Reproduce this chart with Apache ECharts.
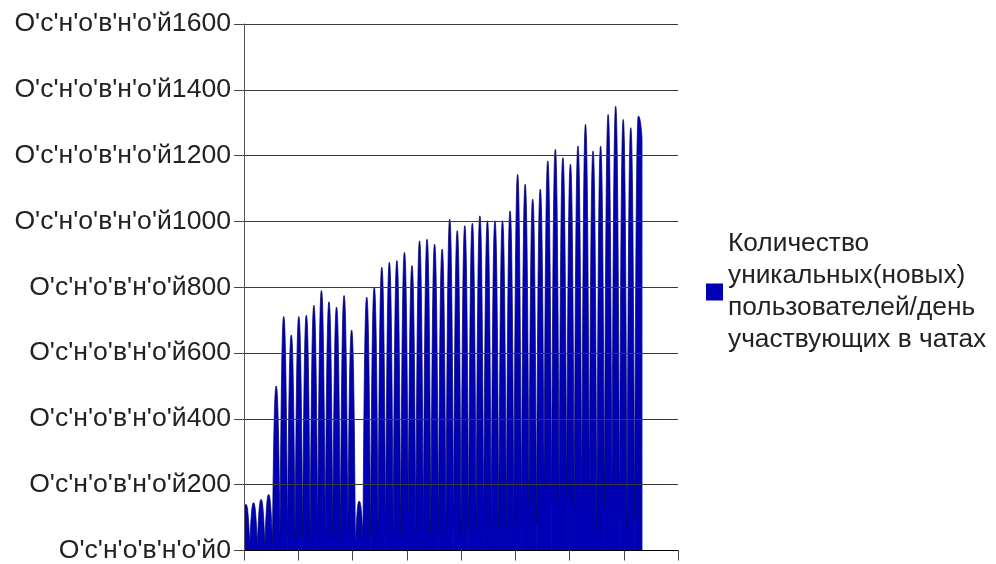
<!DOCTYPE html>
<html><head><meta charset="utf-8">
<script src="https://cdn.jsdelivr.net/npm/echarts@6/dist/echarts.min.js"></script>
<style>html,body{margin:0;padding:0;background:#fff}#c{width:996px;height:564px}</style>
</head><body><div id="c"></div>
<script>
const seriesName = 'Количество\nуникальных(новых)\nпользователей/день\nучаствующих в чатах';
const yLabelPrefix = "О'с'н'о'в'н'о'й";
const yTicks = [0, 200, 400, 600, 800, 1000, 1200, 1400, 1600];
// daily peak values (one per day)
const dailyPeaks = [140, 145, 155, 170, 500, 711, 655, 711, 715, 745,
  790, 756, 740, 775, 670, 150, 770, 800, 861, 876,
  881, 906, 866, 941, 946, 931, 916, 1007, 972, 987,
  995, 1017, 1002, 1002, 1002, 1032, 1143, 1113, 1068, 1098,
  1184, 1219, 1194, 1174, 1229, 1295, 1214, 1229, 1325, 1350,
  1310, 1285, 1320];
// lows at the boundaries between days (one more than days)
const dayBoundaryLows = [60, 15, 15, 15, 20, 40, 40, 35, 40, 35,
  40, 40, 45, 40, 45, 10, 40, 40, 50, 45,
  50, 50, 115, 50, 55, 55, 60, 50, 60, 55,
  60, 70, 60, 70, 65, 70, 80, 75, 130, 80,
  200, 140, 140, 160, 130, 120, 150, 60, 130, 140,
  100, 60, 100, 1250];

const FONT = '"Liberation Sans", Arial, sans-serif';
const FILL = '#0000b4';
const EDGE = '#00005e';
const SHAPE_POWER = 2.4;

const data = dailyPeaks.map((p, i) => [i, dayBoundaryLows[i], p, dayBoundaryLows[i + 1]]);

const chart = echarts.init(document.getElementById('c'), null, {renderer: 'canvas'});
chart.setOption({
  animation: false,
  backgroundColor: '#ffffff',
  grid: {left: 244, right: 318, top: 24, bottom: 11, containLabel: false},
  legend: {
    show: true, orient: 'vertical', left: 706, top: 228, padding: 0, itemGap: 0,
    icon: 'rect', itemWidth: 17, itemHeight: 17,
    textStyle: {fontFamily: FONT, fontSize: 26.3, lineHeight: 32, color: '#222'},
    data: [{name: seriesName}]
  },
  xAxis: [{
    type: 'value', min: 0, max: 8, interval: 1, z: 5,
    axisLine: {show: true, onZero: false, lineStyle: {color: '#000', width: 1}},
    axisTick: {show: true, length: 10, lineStyle: {color: '#444'}},
    axisLabel: {show: false},
    splitLine: {show: false}
  }, {
    type: 'value', min: -0.265, max: 57.26, show: false
  }],
  yAxis: {
    type: 'value', min: yTicks[0], max: yTicks[yTicks.length - 1], interval: 200, z: 5,
    axisLine: {show: true, lineStyle: {color: '#555', width: 1}},
    axisTick: {show: true, length: 10, lineStyle: {color: '#444'}},
    axisLabel: {show: true, fontFamily: FONT, fontSize: 26.6, color: '#222', margin: 13,
      formatter: v => yLabelPrefix + v},
    splitLine: {show: true, lineStyle: {color: '#3a3a3a', width: 1}}
  },
  series: [{
    name: seriesName,
    type: 'custom',
    coordinateSystem: 'cartesian2d',
    xAxisIndex: 1, yAxisIndex: 0,
    clip: true,
    itemStyle: {color: FILL},
    encode: {x: 0, y: [1, 2, 3]},
    data: data,
    renderItem: function (params, api) {
      const i = api.value(0);
      const lo = api.value(1), pk = api.value(2), ro = api.value(3);
      const pl = api.coord([i - 0.5, lo]);
      const pc = api.coord([i, pk]);
      const pr = api.coord([i + 0.5, ro]);
      const y0 = api.coord([i, 0])[1];
      const curve = [];
      const N = 14;
      for (let k = 0; k <= N; k++) {
        const s = 1 - k / N;
        const x = pc[0] - (pc[0] - pl[0]) * s;
        const y = pl[1] + (pc[1] - pl[1]) * (1 - Math.pow(s, SHAPE_POWER));
        curve.push([x, y]);
      }
      for (let k = 1; k <= N; k++) {
        const s = k / N;
        const x = pc[0] + (pr[0] - pc[0]) * s;
        const y = pr[1] + (pc[1] - pr[1]) * (1 - Math.pow(s, SHAPE_POWER));
        curve.push([x, y]);
      }
      const poly = [[pl[0] - 0.3, y0], [pl[0] - 0.3, pl[1]]].concat(curve, [[pr[0] + 0.3, pr[1]], [pr[0] + 0.3, y0]]);
      return {
        type: 'group',
        children: [
          {type: 'polygon', shape: {points: poly}, style: {fill: FILL, stroke: null}},
          {type: 'polyline', shape: {points: curve}, style: {stroke: EDGE, lineWidth: 0.7, fill: null}}
        ]
      };
    }
  }]
});
</script></body></html>
